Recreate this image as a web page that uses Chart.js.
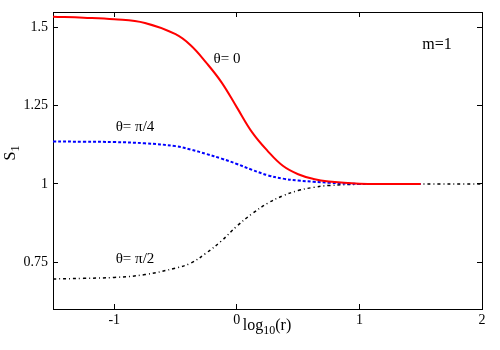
<!DOCTYPE html>
<html>
<head>
<meta charset="utf-8">
<script src="https://cdn.jsdelivr.net/npm/chart.js@4/dist/chart.umd.min.js"></script>
<style>
  html, body { margin: 0; padding: 0; background: #fff; }
  #wrap { width: 500px; height: 350px; }
</style>
</head>
<body>
<div id="wrap"><canvas id="c" width="500" height="350"></canvas></div>
<script>
// ── Data ─────────────────────────────────────────────────────────
const logR = [-1.5, -1.25, -1, -0.75, -0.5, -0.375, -0.25, -0.125, 0, 0.125, 0.25, 0.375, 0.5, 0.625, 0.75, 1, 1.25, 1.5, 2];
const s1Theta0 = [1.535, 1.532, 1.527, 1.515, 1.479, 1.443, 1.388, 1.325, 1.245, 1.165, 1.106, 1.058, 1.031, 1.016, 1.008, 1.001, 1.0, 1.0, null];
const s1ThetaQuarter = [1.136, 1.135, 1.134, 1.130, 1.121, 1.110, 1.096, 1.081, 1.064, 1.045, 1.028, 1.017, 1.011, 1.007, 1.004, 1.0, 1.0, 1.0, null];
const s1ThetaHalf = [0.696, 0.698, 0.701, 0.710, 0.731, 0.747, 0.779, 0.818, 0.865, 0.905, 0.938, 0.962, 0.979, 0.989, 0.995, 0.999, 1.0, 1.0, 1.0];

const xTicks = [-1, 0, 1, 2];
const yTicks = [0.75, 1, 1.25, 1.5];

const FONT = "'Liberation Serif', 'Times New Roman', serif";

const pts = ys => logR.map((x, i) => ({ x: x, y: ys[i] }));

// ── Annotations and axis titles ──────────────────────────────────
const labels = {
  id: "labels",
  afterDraw(chart) {
    const ctx = chart.ctx;
    ctx.save();
    ctx.fillStyle = "#000";
    ctx.textAlign = "center";
    ctx.textBaseline = "middle";
    ctx.font = "15px " + FONT;
    ctx.fillText("θ= 0", 227, 59);
    ctx.fillText("θ= π/4", 135, 127);
    ctx.fillText("θ= π/2", 135, 259);
    ctx.font = "16px " + FONT;
    ctx.fillText("m=1", 437, 45);

    // x title: log10(r)
    ctx.textAlign = "left";
    ctx.textBaseline = "alphabetic";
    ctx.font = "16px " + FONT;
    const w1 = ctx.measureText("log").width;
    ctx.font = "12px " + FONT;
    const w2 = ctx.measureText("10").width;
    ctx.font = "16px " + FONT;
    const w3 = ctx.measureText("(r)").width;
    let x0 = 267 - (w1 + w2 + w3) / 2;
    ctx.fillText("log", x0, 330);
    ctx.font = "12px " + FONT;
    ctx.fillText("10", x0 + w1, 334);
    ctx.font = "16px " + FONT;
    ctx.fillText("(r)", x0 + w1 + w2, 330);

    // y title: S1 (rotated)
    ctx.translate(15, 153);
    ctx.rotate(-Math.PI / 2);
    ctx.font = "16px " + FONT;
    const ws = ctx.measureText("S").width;
    ctx.fillText("S", -ws / 2 - 3, 0);
    ctx.font = "12px " + FONT;
    ctx.fillText("1", ws / 2 - 3, 4);
    ctx.restore();
  }
};

// inward tick marks + black frame, the same on all four sides
const gridIn = { display: true, drawOnChartArea: false, drawTicks: true, tickLength: -5, color: "#000", lineWidth: 1 };
const borderOn = { display: true, color: "#000", width: 1 };

// fixed box sizes, no extra label padding pushing the plot area around
const fixBox = (w, h) => s => {
  if (w !== null) s.width = w;
  if (h !== null) s.height = h;
  s.paddingTop = 0; s.paddingBottom = 0; s.paddingLeft = 0; s.paddingRight = 0;
};

// ── Chart ────────────────────────────────────────────────────────
new Chart(document.getElementById("c"), {
  type: "line",
  data: {
    datasets: [
      { label: "θ=0", data: pts(s1Theta0), borderColor: "#ff0000", borderWidth: 2,
        tension: 0.4, pointRadius: 0 },
      { label: "θ=π/4", data: pts(s1ThetaQuarter), borderColor: "#0000ff", borderWidth: 2,
        borderDash: [3, 2], tension: 0.4, pointRadius: 0 },
      { label: "θ=π/2", data: pts(s1ThetaHalf), borderColor: "#000000", borderWidth: 1.5,
        borderDash: [3, 3, 1, 3], tension: 0.4, pointRadius: 0 }
    ]
  },
  options: {
    responsive: false,
    animation: false,
    layout: { padding: { top: 12, right: 18, left: 0, bottom: 0 } },
    plugins: { legend: { display: false }, tooltip: { enabled: false } },
    scales: {
      x: {
        type: "linear", position: "bottom", min: -1.5, max: 2,
        grid: gridIn, border: borderOn,
        afterBuildTicks: s => { s.ticks = xTicks.map(v => ({ value: v })); },
        afterFit: fixBox(null, 41),
        ticks: { padding: 8, color: "#000", font: { family: FONT, size: 14 },
                 maxRotation: 0, callback: v => String(v) }
      },
      x2: {
        type: "linear", position: "top", min: -1.5, max: 2,
        grid: gridIn, border: borderOn,
        afterBuildTicks: s => { s.ticks = xTicks.map(v => ({ value: v })); },
        afterFit: fixBox(null, 0),
        ticks: { display: false }
      },
      y: {
        type: "linear", position: "left", min: 0.6, max: 1.55,
        grid: gridIn, border: borderOn,
        afterBuildTicks: s => { s.ticks = yTicks.map(v => ({ value: v })); },
        afterFit: fixBox(53, null),
        ticks: { padding: 10, color: "#000", font: { family: FONT, size: 14 },
                 callback: v => String(v) }
      },
      y2: {
        type: "linear", position: "right", min: 0.6, max: 1.55,
        grid: gridIn, border: borderOn,
        afterBuildTicks: s => { s.ticks = yTicks.map(v => ({ value: v })); },
        afterFit: fixBox(0, null),
        ticks: { display: false }
      }
    }
  },
  plugins: [labels]
});
</script>
</body>
</html>
